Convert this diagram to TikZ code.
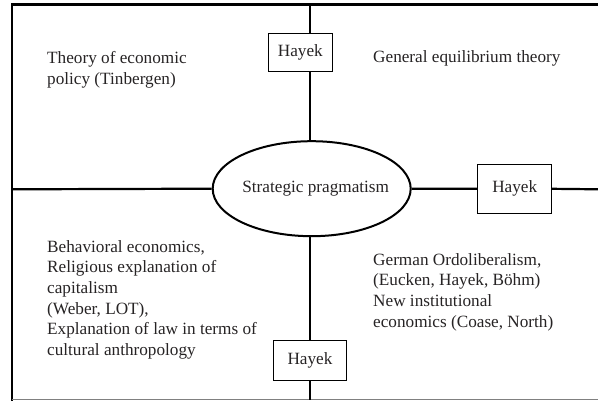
\documentclass[tikz,border=0pt]{standalone}
\usepackage{fontspec}
\setmainfont{Liberation Serif}
\usetikzlibrary{shapes.geometric}
\definecolor{inkgray}{HTML}{262324}
\begin{document}
\begin{tikzpicture}
        [x=1pt,y=-1pt,
        framedecorate/.style={line width=2.4pt,line cap=rect},%
        linkdecorate/.style={line width=2.2pt},%
        boxdecorate/.style={shape=rectangle,draw,line width=1pt,inner sep=0pt,text=inkgray},%
        textdecorate/.style={align=left,anchor=north west,inner sep=0pt,text=inkgray}]
        \useasboundingbox (0,0) rectangle (598,401);
        \fontsize{17.2}{20.7}\selectfont
        %% frame and crossing points
        \coordinate (tl) at (12,4.5);
        \coordinate (tr) at (598,4.5);
        \coordinate (bl) at (12,399.5);
        \coordinate (br) at (598,399.5);
        \coordinate (topmid) at (310,4.5);
        \coordinate (botmid) at (310,399.5);
        \coordinate (leftmid) at (12,189.3);
        \coordinate (rightmid) at (598,189.3);
        %% centre
        \node (core) at (311.7,188.7) [shape=ellipse,draw,line width=2pt,minimum width=198,minimum height=95,inner sep=0pt,
          label={[text=inkgray,xshift=4pt]center:Strategic pragmatism}] {};
        %% boxes
        \foreach \nodename/\x/\y/\w/\h in { hayekN/300.3/52.5/64/38.5,
          hayekE/514.7/188.8/74/49, hayekS/310/360.7/73/40}
        {
          \node (\nodename) at (\x,\y) [boxdecorate,minimum width=\w,minimum height=\h] {Hayek};
        }
        %% quadrant texts
        \node (policytext) at (47,51) [textdecorate] {Theory of economic\\policy (Tinbergen)};
        \node (equilibriumtext) at (373,50.6) [textdecorate] {General equilibrium theory};
        \node (behaviortext) at (47,240) [textdecorate] {Behavioral economics,\\Religious explanation of\\capitalism\\(Weber, LOT),\\Explanation of law in terms of\\cultural anthropology};
        \node (ordotext) at (373,253) [textdecorate] {German Ordoliberalism,\\(Eucken, Hayek, B\"ohm)\\New institutional\\economics (Coase, North)};
        %% lines
        \draw[framedecorate] (tr) -- (tl) -- (bl);
        \draw[line width=0.8pt,gray] (bl) -- (br);
        \draw[linkdecorate] (leftmid) -- (core.west);
        \draw[linkdecorate] (core.east) -- (hayekE.west);
        \draw[linkdecorate] (hayekE.east) -- (rightmid);
        \draw[linkdecorate] (topmid) -- (topmid |- hayekN.north);
        \draw[linkdecorate] (topmid |- hayekN.south) -- (topmid |- core.north);
        \draw[linkdecorate] (topmid |- core.south) -- (hayekS.north);
        \draw[linkdecorate] (hayekS.south) -- (botmid);
\end{tikzpicture}
\end{document}
